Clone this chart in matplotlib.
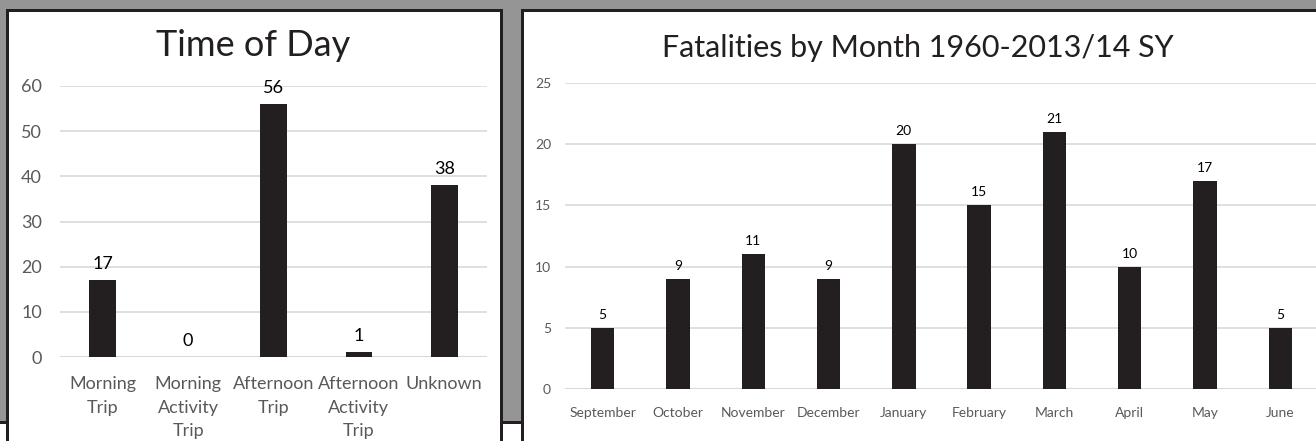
import matplotlib
matplotlib.use("Agg")
import matplotlib.pyplot as plt
from matplotlib.patches import Rectangle

plt.rcParams['font.family'] = ['Lato', 'DejaVu Sans']

# data
tod_labels = ["Morning\nTrip", "Morning\nActivity\nTrip", "Afternoon\nTrip",
              "Afternoon\nActivity\nTrip", "Unknown"]
tod_values = [17, 0, 56, 1, 38]
tod_ticks = [0, 10, 20, 30, 40, 50, 60]

months = ["September", "October", "November", "December", "January",
          "February", "March", "April", "May", "June"]
month_values = [5, 9, 11, 9, 20, 15, 21, 10, 17, 5]
month_ticks = [0, 5, 10, 15, 20, 25]

W, H = 1316, 441
BAR = '#231f20'
GRID = '#d9d9d9'
TICK = '#595959'


def box(x0, y0, x1, y1):
    # pixel box (top-left origin) -> figure fraction rect
    return [x0 / W, 1 - y1 / H, (x1 - x0) / W, (y1 - y0) / H]


fig = plt.figure(figsize=(W / 100, H / 100), dpi=100)
fig.patch.set_facecolor('#959595')

lw = 3 * 72 / 100
# strip of white below, with black line on top
fig.patches.append(Rectangle((0, 0), 1, 1 - 421 / H, transform=fig.transFigure,
                             facecolor='white', edgecolor='none', zorder=0))
fig.add_artist(plt.Line2D([0, 1], [1 - 421.5 / H] * 2, transform=fig.transFigure,
                          color='#231f20', lw=lw, zorder=1))
# panels
for x0, x1 in [(6.5, 501.5), (521.5, 1340)]:
    fig.patches.append(Rectangle((x0 / W, -0.1), (x1 - x0) / W, 1.1 - 10.5 / H,
                                 transform=fig.transFigure, facecolor='white',
                                 edgecolor='#231f20', lw=lw, zorder=2))


def style(ax, ticks, fs):
    ax.set_facecolor('none')
    for s in ax.spines.values():
        s.set_visible(False)
    ax.set_yticks(ticks)
    ax.set_ylim(ticks[0], ticks[-1])
    ax.yaxis.grid(True, color=GRID, lw=1.2)
    ax.set_axisbelow(True)
    ax.tick_params(length=0, labelcolor=TICK, labelsize=fs)
    ax.axhline(0, color=GRID, lw=1.5, zorder=1)


# left chart
ax1 = fig.add_axes(box(60, 86, 487, 357), zorder=3)
style(ax1, tod_ticks, 13)
x1 = range(len(tod_values))
ax1.bar(x1, tod_values, width=0.31, color=BAR, zorder=2)
ax1.set_xlim(-0.5, len(tod_values) - 0.5)
ax1.set_xticks(list(x1))
ax1.set_xticklabels(tod_labels, linespacing=1.55)
ax1.tick_params(axis='x', pad=14)
ax1.tick_params(axis='y', pad=13)
for i, v in enumerate(tod_values):
    ax1.annotate(str(v), (i, v), xytext=(0, 6), textcoords='offset points',
                 ha='center', va='bottom', fontsize=13, color='black')
fig.text(253 / W, 1 - 45 / H, "Time of Day", ha='center', va='center',
         fontsize=26, color='#231f20', zorder=4)

# right chart
ax2 = fig.add_axes(box(565, 83, 1318, 389), zorder=3)
style(ax2, month_ticks, 10)
x2 = range(len(month_values))
ax2.bar(x2, month_values, width=0.31, color=BAR, zorder=2)
ax2.set_xlim(-0.5, len(month_values) - 0.5)
ax2.set_xticks(list(x2))
ax2.set_xticklabels(months)
ax2.tick_params(axis='x', pad=13)
ax2.tick_params(axis='y', pad=10)
for i, v in enumerate(month_values):
    ax2.annotate(str(v), (i, v), xytext=(0, 5), textcoords='offset points',
                 ha='center', va='bottom', fontsize=10, color='black')
fig.text(918 / W, 1 - 48 / H, "Fatalities by Month 1960-2013/14 SY", ha='center',
         va='center', fontsize=22, color='#231f20', zorder=4)

fig.savefig('out.png', dpi=100, facecolor=fig.get_facecolor())
